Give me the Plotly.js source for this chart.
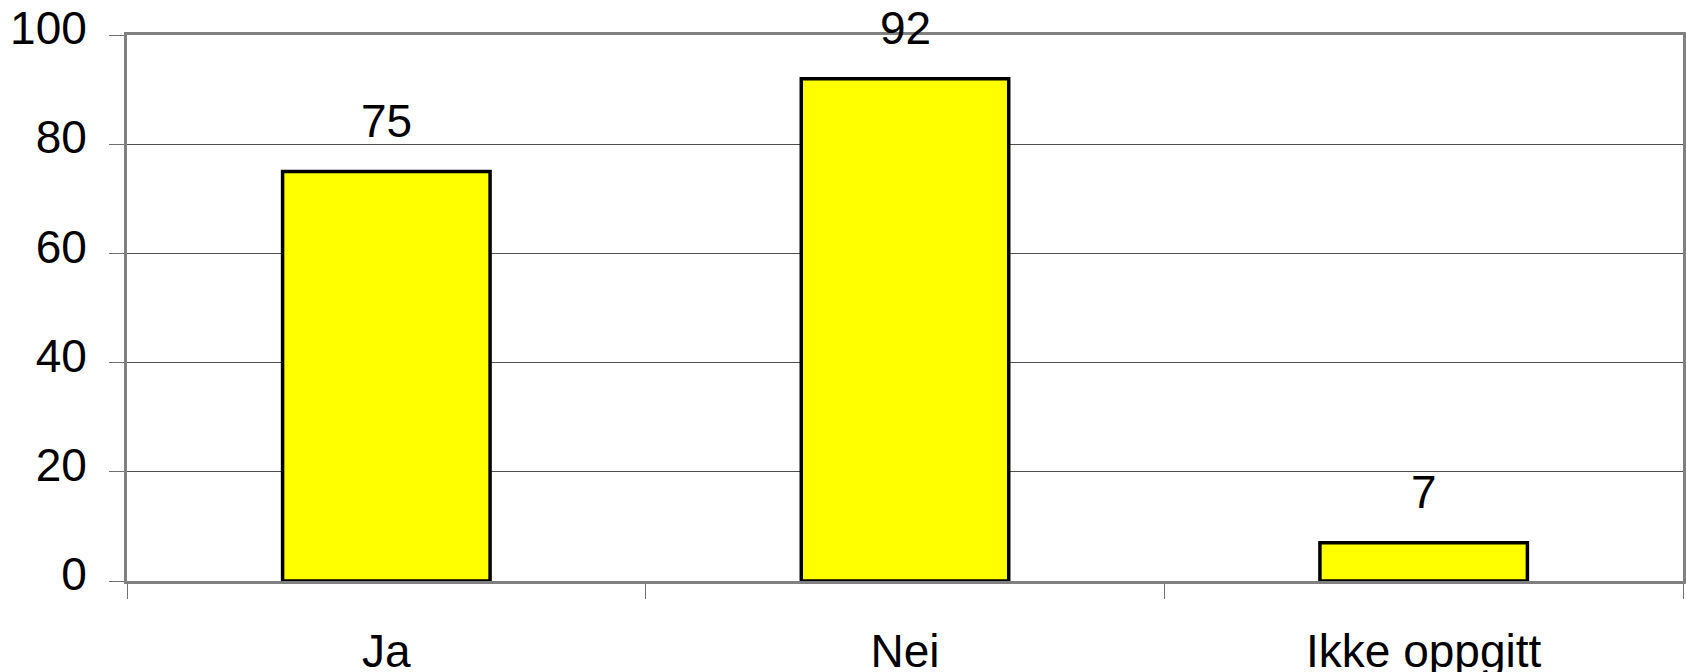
<!DOCTYPE html>
<html>
<head>
<meta charset="utf-8">
<script src="https://cdn.plot.ly/plotly-3.0.1.min.js"></script>
<style>
  html, body { margin: 0; padding: 0; background: #ffffff; }
  #chart { width: 1686px; height: 672px; }
</style>
</head>
<body>
<div id="chart"></div>
<script>
const categories = ["Ja", "Nei", "Ikke oppgitt"];
const values = [75, 92, 7];
const yTickValues = [0, 20, 40, 60, 80, 100];
const yTickLabels = ["0", "20", "40", "60", "80", "100"];

const FONT = "Liberation Sans, Arial, sans-serif";
const FSIZE = 46;

const barTrace = {
  type: "bar",
  x: categories,
  y: values,
  marker: {
    color: "#FFFF00",
    line: { color: "#000000", width: 3.5 }
  },
  hoverinfo: "none",
  showlegend: false
};

const annotations = categories.map((c, i) => ({
  x: c,
  y: values[i],
  xref: "x",
  yref: "y",
  text: String(values[i]),
  showarrow: false,
  yanchor: "bottom",
  xanchor: "center",
  yshift: 23,
  font: { family: FONT, size: FSIZE, color: "#000000" }
}));

const layout = {
  width: 1686,
  height: 672,
  margin: { l: 127, r: 3, t: 35, b: 91, pad: 0 },
  paper_bgcolor: "#ffffff",
  plot_bgcolor: "#ffffff",
  bargap: 0.6,
  font: { family: FONT, size: FSIZE, color: "#000000" },
  xaxis: {
    type: "category",
    range: [-0.5, 2.5],
    tickson: "boundaries",
    ticks: "outside",
    ticklen: 15,
    tickwidth: 1,
    tickcolor: "#707070",
    showline: true,
    linecolor: "#808080",
    linewidth: 3,
    mirror: true,
    showgrid: false,
    zeroline: false,
    ticklabelstandoff: 28,
    tickfont: { family: FONT, size: FSIZE, color: "#000000" },
    fixedrange: true
  },
  yaxis: {
    range: [0, 100],
    tickmode: "array",
    tickvals: yTickValues,
    ticktext: yTickLabels,
    ticks: "outside",
    ticklen: 15,
    tickwidth: 1,
    tickcolor: "#707070",
    showline: true,
    linecolor: "#808080",
    linewidth: 3,
    mirror: true,
    showgrid: true,
    gridcolor: "#505050",
    gridwidth: 1,
    zeroline: false,
    ticklabelstandoff: 13,
    ticklabelshift: -7,
    tickfont: { family: FONT, size: FSIZE, color: "#000000" },
    fixedrange: true
  },
  annotations: annotations
};

Plotly.newPlot("chart", [barTrace], layout, { displayModeBar: false, staticPlot: true });
</script>
</body>
</html>
